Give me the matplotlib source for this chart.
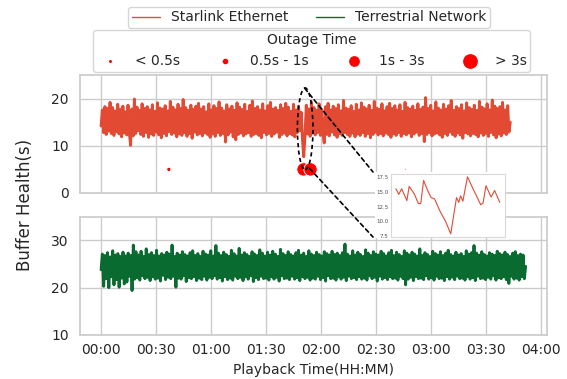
import numpy as np
import matplotlib
matplotlib.use("Agg")
import matplotlib.pyplot as plt
import seaborn as sns
from matplotlib.lines import Line2D
from matplotlib.patches import Ellipse, Rectangle, ConnectionPatch
from matplotlib.ticker import FuncFormatter

# ---------------- data ----------------
# Starlink Ethernet buffer health (s), sampled evenly from 00:00 to STARLINK_END_MIN
STARLINK_END_MIN = 223.3
starlink = [
    14.2, 17.6, 12.8, 18.3, 12.4, 17.9, 13.1, 19.2, 12.6, 18.1, 12.2, 17.4, 13.0, 18.8, 12.5, 17.7, 11.9, 18.4, 12.7, 17.2,
    12.3, 18.6, 12.9, 10.1, 17.8, 12.1, 19.9, 12.6, 18.2, 13.2, 17.5, 12.4, 18.9, 12.0, 17.9, 12.8, 18.3, 11.8, 17.6, 12.5,
    18.7, 12.2, 17.3, 12.9, 19.1, 12.3, 18.0, 11.7, 17.8, 12.6, 18.5, 12.1, 17.4, 13.0, 19.4, 12.4, 18.2, 12.7, 17.6, 11.9,
    18.8, 12.5, 17.9, 12.2, 19.8, 12.8, 18.1, 12.0, 17.5, 12.6, 18.6, 11.6, 17.7, 12.9, 18.4, 12.3, 19.0, 12.6, 17.8, 12.1,
    18.3, 12.7, 17.2, 12.4, 18.9, 11.8, 17.6, 12.5, 18.5, 12.0, 17.9, 12.8, 19.3, 12.2, 18.0, 12.6, 17.4, 10.8, 18.7, 12.3,
    17.8, 12.9, 18.4, 11.9, 17.5, 11.3, 19.1, 12.4, 18.2, 12.7, 17.7, 12.1, 18.8, 12.5, 17.3, 12.8, 18.6, 12.0, 19.5, 12.4,
    17.9, 12.6, 18.3, 12.2, 17.6, 11.7, 18.9, 12.8, 17.4, 12.3, 18.5, 12.6, 19.2, 12.0, 17.8, 12.5, 18.1, 12.9, 17.5, 11.8,
    18.7, 12.4, 17.9, 12.7, 19.0, 12.1, 18.2, 12.6, 17.3, 12.3, 18.8, 11.9, 17.6, 12.8, 18.4, 13.2, 17.1, 11.5, 7.7, 12.2,
    18.6, 12.5, 17.8, 12.0, 19.3, 12.7, 18.1, 12.3, 17.5, 12.8, 18.9, 12.2, 17.7, 12.6, 10.6, 18.3, 12.4, 19.0, 12.1, 17.6,
    12.9, 18.4, 12.3, 17.9, 11.8, 18.7, 12.6, 17.4, 12.2, 19.6, 12.8, 18.0, 12.4, 17.7, 12.0, 18.5, 12.7, 17.3, 11.9, 18.8,
    12.5, 17.6, 12.2, 19.1, 12.8, 18.2, 12.0, 17.8, 12.6, 18.6, 11.7, 17.5, 12.4, 19.4, 12.9, 18.0, 12.3, 17.7, 12.6, 18.9,
    12.1, 17.4, 12.7, 18.3, 12.4, 19.0, 11.8, 17.9, 12.5, 18.5, 12.2, 17.6, 12.8, 18.7, 12.0, 17.3, 12.6, 19.2, 12.3, 18.1,
    12.7, 17.8, 11.9, 18.4, 12.5, 17.5, 12.9, 18.9, 12.2, 17.7, 12.6, 18.2, 10.9, 20.2, 12.4, 17.9, 12.8, 18.6, 12.1, 17.4,
    12.5, 19.3, 12.7, 18.0, 12.3, 17.6, 11.8, 18.8, 12.6, 17.8, 12.2, 18.5, 12.9, 19.6, 12.4, 17.5, 12.0, 18.3, 12.7, 17.9,
    12.3, 18.7, 11.6, 17.4, 12.8, 19.1, 12.5, 18.1, 12.1, 17.7, 12.6, 18.6, 12.4, 17.5, 11.9, 19.4, 12.7, 18.2, 12.2, 17.8,
    12.6, 18.9, 12.0, 17.6, 12.8, 19.7, 12.3, 18.4, 11.7, 17.9, 12.5, 18.3, 12.1, 19.2, 12.7, 17.6, 12.4, 18.5, 12.9, 15.0,
]

# Terrestrial network buffer health (s), sampled evenly from 00:00 to TERRESTRIAL_END_MIN
TERRESTRIAL_END_MIN = 231.7
terrestrial = [
    23.8, 27.1, 20.3, 26.8, 21.9, 27.4, 20.0, 26.5, 22.3, 27.8,
    20.6, 26.9, 21.7, 27.2, 20.1, 26.6, 22.0, 27.5, 20.8, 26.7,
    21.2, 27.3, 22.4, 26.8, 19.4, 29.0, 21.8, 27.6, 22.1, 26.9,
    21.6, 27.7, 22.5, 26.6, 21.9, 28.2, 22.2, 27.0, 21.5, 27.4,
    22.3, 26.8, 21.8, 27.9, 22.0, 26.7, 21.4, 27.2, 22.6, 26.9,
    21.7, 27.5, 22.2, 27.1, 21.9, 29.0, 22.4, 26.6, 20.1, 27.3,
    22.0, 26.9, 21.8, 27.6, 22.5, 27.0, 21.3, 26.7, 22.1, 27.4,
    21.9, 27.8, 22.3, 26.8, 21.5, 27.2, 22.0, 26.6, 21.7, 27.7,
    22.4, 27.1, 21.6, 26.9, 22.2, 27.8, 21.9, 26.7, 22.5, 28.9,
    21.8, 27.3, 22.1, 26.8, 21.4, 27.5, 22.3, 27.0, 21.7, 26.6,
    22.0, 27.9, 21.6, 27.2, 22.4, 26.7, 21.9, 28.3, 22.2, 26.9,
    21.5, 27.4, 22.3, 27.0, 21.8, 26.6, 22.5, 27.6, 21.3, 27.1,
    22.1, 26.8, 21.7, 28.0, 22.4, 27.3, 21.9, 26.7, 22.0, 27.5,
    21.6, 26.9, 22.3, 27.7, 21.8, 27.1, 22.2, 26.6, 21.4, 28.1,
    22.5, 27.2, 21.9, 26.8, 22.0, 27.6, 21.7, 27.0, 22.4, 26.7,
    21.8, 27.4, 22.1, 27.9, 21.5, 26.9, 22.3, 27.3, 21.9, 26.6,
    22.2, 27.8, 21.6, 27.1, 22.0, 26.8, 21.8, 27.5, 22.4, 27.0,
    21.7, 26.7, 22.1, 27.6, 21.4, 27.2, 22.5, 26.9, 21.9, 27.7,
    22.0, 27.0, 21.6, 27.3, 22.3, 26.8, 21.8, 27.4, 22.2, 29.2,
    21.5, 27.1, 22.4, 26.7, 21.9, 27.8, 22.1, 26.9, 21.7, 27.5,
    22.3, 27.0, 21.8, 26.6, 22.0, 28.0, 21.6, 27.3, 22.5, 26.8,
    21.9, 27.6, 22.2, 27.1, 21.4, 26.9, 22.4, 27.7, 21.8, 27.2,
    22.1, 26.7, 21.7, 27.4, 22.3, 27.9, 21.9, 26.8, 22.0, 27.5,
    21.6, 27.0, 22.4, 26.6, 21.9, 27.8, 20.6, 27.3, 21.8, 26.9,
    22.2, 27.5, 21.5, 27.1, 22.3, 26.7, 21.9, 28.2, 22.0, 26.8,
    21.7, 27.4, 22.5, 27.0, 21.8, 26.6, 22.1, 27.7, 21.6, 27.2,
    22.4, 26.9, 21.9, 27.6, 22.0, 26.8, 21.5, 27.3, 22.3, 27.9,
    21.8, 27.0, 22.2, 26.7, 21.7, 27.5, 22.4, 26.9, 21.9, 27.2,
    22.0, 26.6, 21.6, 27.8, 22.3, 27.1, 21.8, 27.4, 22.1, 28.9,
    21.5, 27.3, 22.4, 26.9, 21.9, 27.6, 22.0, 27.0, 21.7, 26.7,
    22.2, 27.4, 21.8, 27.1, 22.5, 26.8, 21.6, 27.7, 22.1, 27.2,
    21.9, 26.9, 22.3, 27.5, 21.7, 27.0, 20.9, 26.6, 22.4, 27.3,
    21.8, 27.6, 22.0, 26.8, 21.6, 27.1, 22.3, 26.9, 21.9, 24.5,
]

# Outage events (minutes into playback) and their duration class
outage_minutes = [37.0, 110.5, 114.3, 166.0]
outage_class = [1, 3, 3, 0]
outage_labels = ["< 0.5s", "0.5s - 1s", "1s - 3s", "> 3s"]

# Zoomed-in detail around the stall (seconds in window, buffer health)
inset_sec = [0, 5, 10, 19, 23, 32, 39, 43, 48, 55, 61, 67, 76, 86, 95,
             105, 109, 112, 116, 124, 136, 147, 151, 156, 165, 171, 180]
inset_val = [15.5, 14.55, 15.5, 13.5, 15.9, 14.6, 13.0, 13.0, 16.9, 15.2, 14.0, 13.8, 11.8, 10.0, 7.9,
             14.0, 13.2, 14.3, 13.4, 17.5, 15.0, 12.8, 13.1, 16.0, 14.1, 15.2, 13.2]

series_labels = ["Starlink Ethernet", "Terrestrial Network"]
x_ticks_min = [0, 30, 60, 90, 120, 150, 180, 210, 240]

# ---------------- style ----------------
RED = "#E24A33"
GREEN = "#0A6B30"
MARK = "#FF0000"
OUTAGE_Y = 5
marker_area = [1.3, 9.0, 45.0, 92.0]

sns.set_theme(style="whitegrid")
plt.rcParams["font.family"] = ["DejaVu Sans"]
plt.rcParams["text.color"] = "0.15"
plt.rcParams["path.simplify"] = False

W, H = 567, 379
fig = plt.figure(figsize=(W / 100, H / 100), dpi=100)

def fx(px):
    return px / W

def fy(py):
    return 1 - py / H

ax1 = fig.add_axes([fx(80), fy(193), fx(546.7) - fx(80), fy(75) - fy(193)])
ax2 = fig.add_axes([fx(80), fy(335), fx(546.7) - fx(80), fy(216.7) - fy(335)], sharex=ax1)

t_star = np.linspace(0, STARLINK_END_MIN, len(starlink))
t_terr = np.linspace(0, TERRESTRIAL_END_MIN, len(terrestrial))

ax1.plot(t_star, starlink, color=RED, lw=2.1, zorder=2, solid_joinstyle="round")
ax2.plot(t_terr, terrestrial, color=GREEN, lw=2.1, zorder=2, solid_joinstyle="round")

sizes = [marker_area[c] for c in outage_class]
ax1.scatter(outage_minutes, [OUTAGE_Y] * len(outage_minutes), s=sizes, color=MARK,
            edgecolors="white", linewidths=0.6, zorder=3)

for ax in (ax1, ax2):
    for sp in ax.spines.values():
        sp.set_color("0.8")
        sp.set_linewidth(1.25)
    ax.grid(True, color="0.8", lw=1.0)
    ax.tick_params(axis="both", length=0, labelsize=10, labelcolor="0.15")
    ax.tick_params(axis="y", pad=8)
    ax.tick_params(axis="x", pad=6)

ax1.set_xlim(-11.5, 243.2)
ax1.set_xticks(x_ticks_min)
ax2.xaxis.set_major_formatter(FuncFormatter(lambda v, p: f"{int(v // 60):02d}:{int(v % 60):02d}"))
plt.setp(ax1.get_xticklabels(), visible=False)
ax1.set_ylim(0, 25)
ax1.set_yticks([0, 10, 20])
ax2.set_ylim(10, 35)
ax2.set_yticks([10, 20, 30])
ax2.set_xlabel("Playback Time(HH:MM)", fontsize=10, color="0.15", labelpad=4)
fig.text(fx(25), fy(205), "Buffer Health(s)", rotation=90, ha="center", va="center",
         fontsize=12, color="0.15")

# ellipse highlighting the stall
ax1.add_patch(Ellipse((111.4, 13.6), width=8.5, height=17.3, fill=False,
                      ls=(0, (2.5, 2)), lw=1.2, edgecolor="black", zorder=4))

# white backing for inset and inset axes
fig.add_artist(Rectangle((fx(375), fy(237.5)), fx(505) - fx(375), fy(172) - fy(237.5),
                         transform=fig.transFigure, facecolor="white", edgecolor="none", zorder=3))
axin = fig.add_axes([fx(390.7), fy(236.7), fx(505) - fx(390.7), fy(174) - fy(236.7)], zorder=4)
axin.plot(inset_sec, inset_val, color=RED, lw=0.8)
axin.set_facecolor("white")
axin.grid(False)
axin.set_xticks([])
axin.set_yticks([7.5, 10.0, 12.5, 15.0, 17.5])
axin.tick_params(axis="y", length=0, labelsize=4, pad=1.5, labelcolor="0.3")
for sp in axin.spines.values():
    sp.set_color("0.85")
    sp.set_linewidth(0.8)

for xyA, pyB in (((111.1, 22.2), 172), ((113.8, 5.2), 237)):
    con = ConnectionPatch(xyA=xyA, coordsA=ax1.transData,
                          xyB=(fx(373), fy(pyB)), coordsB=fig.transFigure,
                          ls=(0, (2.5, 2)), lw=1.2, color="black", zorder=5)
    fig.add_artist(con)

# legends
line_handles = [Line2D([], [], color=RED, lw=1.0), Line2D([], [], color=GREEN, lw=1.0)]
leg1 = fig.legend(line_handles, series_labels, loc="upper center", bbox_to_anchor=(fx(309), fy(7)),
                  ncol=2, fontsize=10, frameon=True, borderpad=0.25, borderaxespad=0)
mk_handles = [Line2D([], [], marker="o", ls="", color=MARK, markersize=np.sqrt(a)) for a in marker_area]
leg2 = fig.legend(mk_handles, outage_labels, loc="upper center", bbox_to_anchor=(fx(311.5), fy(30)),
                  ncol=4, fontsize=10, title="Outage Time", title_fontsize=10, frameon=True,
                  borderpad=0.25, borderaxespad=0, columnspacing=2.25)
for lg in (leg1, leg2):
    lg.get_frame().set_edgecolor("0.8")
    lg.get_frame().set_facecolor("white")

fig.savefig("out.png", dpi=100)
